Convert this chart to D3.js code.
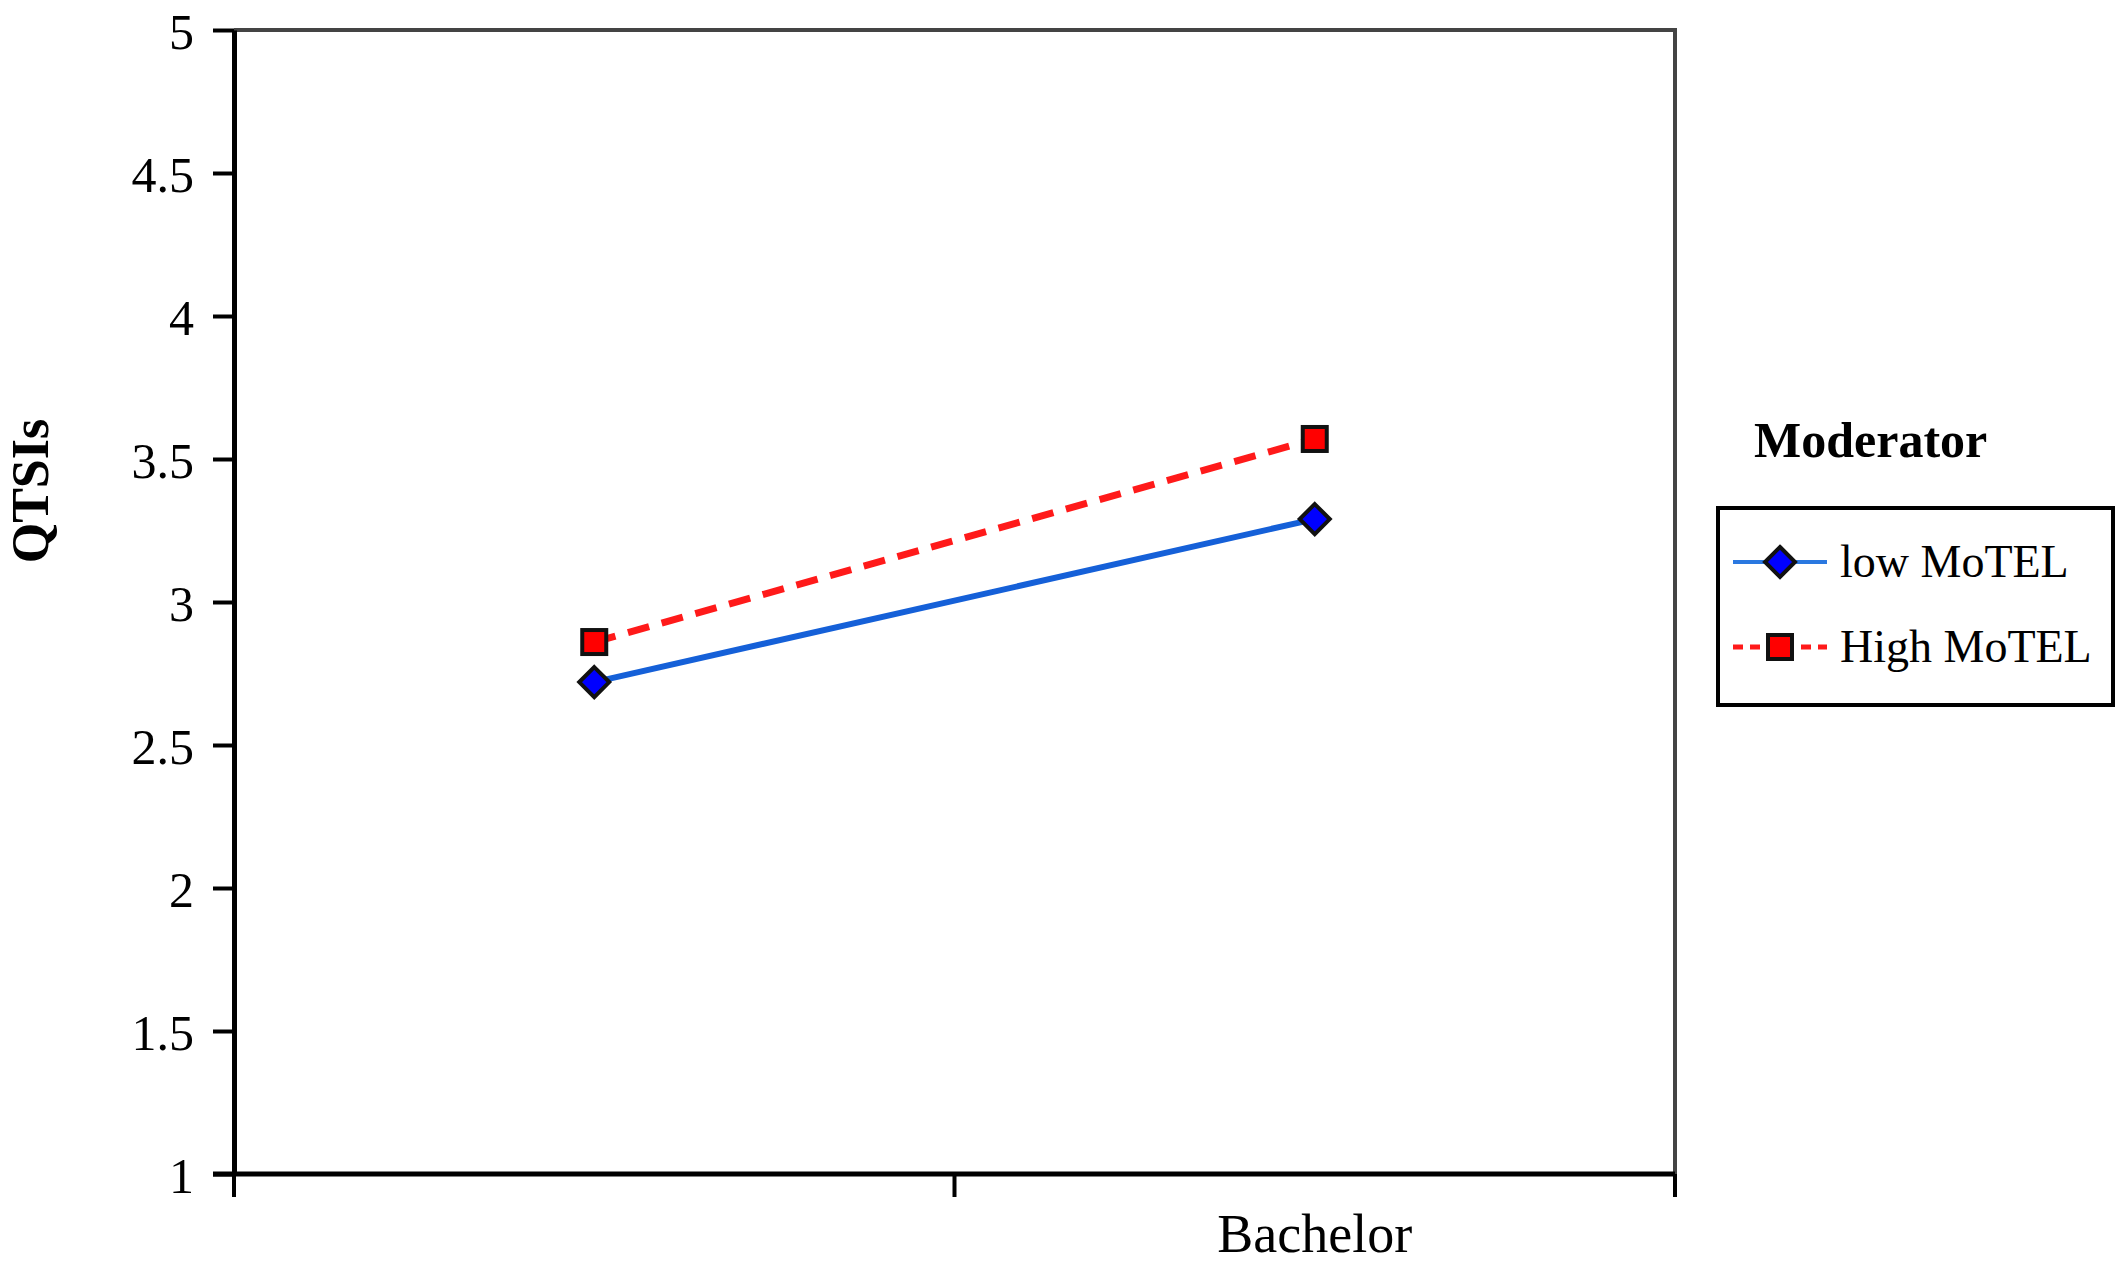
<!DOCTYPE html>
<html>
<head>
<meta charset="utf-8">
<script src="https://cdn.jsdelivr.net/npm/d3@7/dist/d3.min.js"></script>
<style>
  html, body { margin: 0; padding: 0; background: #fff; }
  svg { display: block; }
</style>
</head>
<body>
<svg id="chart" width="2128" height="1264"></svg>
<script>
// ---- data ----
const categories = ["", "Bachelor"];
const seriesNames = ["low MoTEL", "High MoTEL"];
const lowMoTEL = [2.72, 3.29];
const highMoTEL = [2.86, 3.57];
const yTicks = [1, 1.5, 2, 2.5, 3, 3.5, 4, 4.5, 5];
const yLabel = "QTSIs";
const legendTitle = "Moderator";

(function () {
const series = [
  { name: seriesNames[0], values: lowMoTEL, color: "#1560d8", dash: null, marker: "diamond", fill: "#0000ff", width: 6 },
  { name: seriesNames[1], values: highMoTEL, color: "#ff1a1a", dash: "22,13", marker: "square", fill: "#ff0000", width: 7 }
];

const svg = d3.select("#chart");
const pL = 234, pR = 1675, pT = 30, pB = 1174;
const font = "'Liberation Serif', 'Times New Roman', serif";

const x = d3.scaleBand().domain(categories).range([pL, pR]).padding(0);
const y = d3.scaleLinear().domain([1, 5]).range([pB, pT]);

// top & right frame (gray)
svg.append("path")
  .attr("d", `M${pL},${pT}H${pR}V${pB}`)
  .attr("fill", "none").attr("stroke", "#444").attr("stroke-width", 4);

// y axis
const yAxis = svg.append("g").attr("transform", `translate(${pL},0)`)
  .call(d3.axisLeft(y).tickValues(yTicks).tickFormat(d => String(d)).tickSizeInner(21).tickSizeOuter(0).tickPadding(19));
yAxis.select(".domain").attr("stroke", "#000").attr("stroke-width", 5);
yAxis.selectAll(".tick line").attr("stroke", "#000").attr("stroke-width", 4);
yAxis.selectAll(".tick text").attr("font-family", font).attr("font-size", 50).attr("fill", "#000").attr("dy", "0.36em");

// x axis (ticks between categories)
const xAxisG = svg.append("g");
xAxisG.append("line").attr("x1", pL - 21).attr("x2", pR).attr("y1", pB).attr("y2", pB)
  .attr("stroke", "#000").attr("stroke-width", 5);
const boundaries = categories.map(c => x(c)).concat([x.range()[1]]);
xAxisG.selectAll("line.tk").data(boundaries).join("line").attr("class", "tk")
  .attr("x1", d => d).attr("x2", d => d).attr("y1", pB).attr("y2", pB + 23)
  .attr("stroke", "#000").attr("stroke-width", 4);
xAxisG.selectAll("text.cat").data(categories).join("text").attr("class", "cat")
  .attr("x", d => x(d) + x.bandwidth() / 2).attr("y", 1252)
  .attr("text-anchor", "middle").attr("font-family", font).attr("font-size", 54).attr("fill", "#000")
  .text(d => d);

// y label
svg.append("text")
  .attr("transform", `translate(48,${(pT + pB) / 2 - 111}) rotate(-90)`)
  .attr("text-anchor", "middle").attr("font-family", font).attr("font-weight", "bold")
  .attr("font-size", 52).attr("fill", "#000").text(yLabel);

// lines
const cx = c => x(c) + x.bandwidth() / 2;
const line = d3.line().x(d => cx(d.c)).y(d => y(d.v));
function drawMarker(g, type, fill, px, py) {
  if (type === "diamond") {
    g.append("path").attr("d", `M${px},${py - 15}L${px + 15},${py}L${px},${py + 15}L${px - 15},${py}Z`)
      .attr("fill", fill).attr("stroke", "#111").attr("stroke-width", 4);
  } else {
    g.append("rect").attr("x", px - 12).attr("y", py - 12).attr("width", 24).attr("height", 24)
      .attr("fill", fill).attr("stroke", "#111").attr("stroke-width", 4);
  }
}
series.forEach(s => {
  const pts = categories.map((c, i) => ({ c, v: s.values[i] }));
  svg.append("path").datum(pts).attr("d", line)
    .attr("fill", "none").attr("stroke", s.color).attr("stroke-width", s.width)
    .attr("stroke-dasharray", s.dash);
  const g = svg.append("g");
  pts.forEach(p => drawMarker(g, s.marker, s.fill, cx(p.c), y(p.v)));
});

// legend
const lx = -7;
svg.append("text").attr("x", 1761 + lx).attr("y", 457)
  .attr("font-family", font).attr("font-weight", "bold").attr("font-size", 50).attr("fill", "#000")
  .text(legendTitle);
svg.append("rect").attr("x", 1725 + lx).attr("y", 508).attr("width", 395).attr("height", 197)
  .attr("fill", "#fff").attr("stroke", "#000").attr("stroke-width", 4);
const rowY = [562, 647];
series.forEach((s, i) => {
  const g = svg.append("g");
  g.append("line").attr("x1", 1740 + lx).attr("x2", 1834 + lx).attr("y1", rowY[i]).attr("y2", rowY[i])
    .attr("stroke", i === 0 ? "#2a78e0" : s.color).attr("stroke-width", i === 0 ? 4 : 5)
    .attr("stroke-dasharray", s.dash ? "10,7" : null);
  drawMarker(g, s.marker, s.fill, 1787 + lx, rowY[i]);
  g.append("text").attr("x", 1847 + lx).attr("y", rowY[i]).attr("dy", "0.33em")
    .attr("font-family", font).attr("font-size", 46).attr("fill", "#000").text(s.name);
});
})();
</script>
</body>
</html>
